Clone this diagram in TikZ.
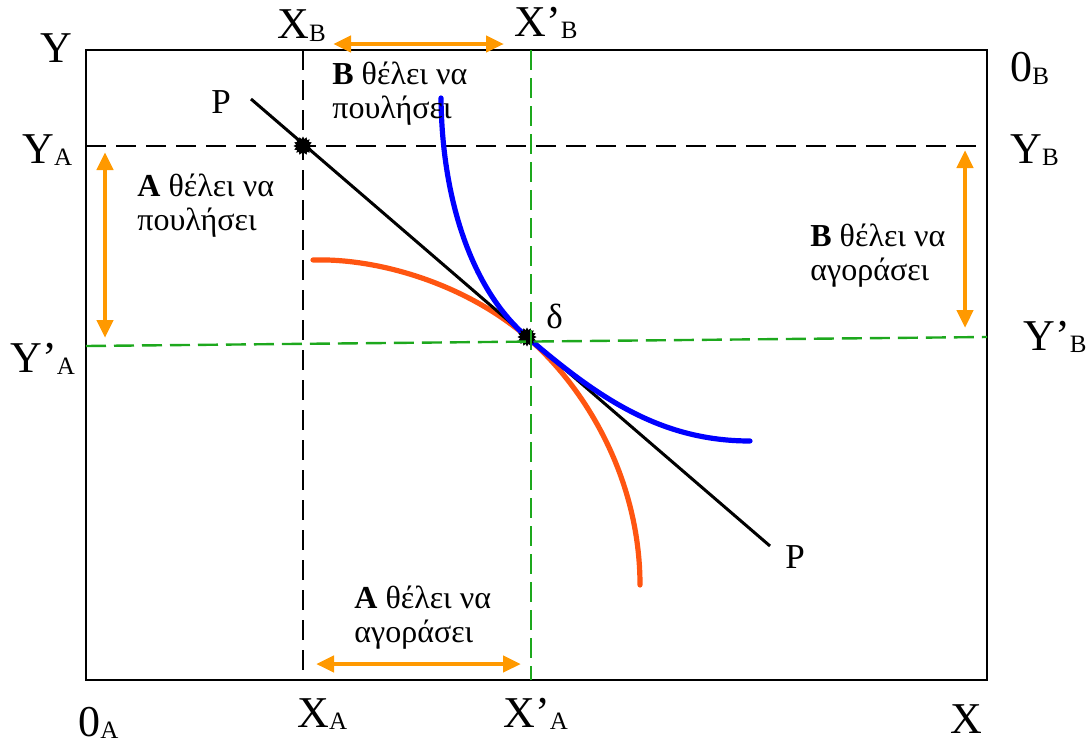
\documentclass[tikz,border=0pt]{standalone}
\usepackage{fontspec}
\setmainfont{Liberation Serif}
\usetikzlibrary{arrows.meta,shapes.geometric}
\definecolor{tradeor}{HTML}{FF9900}
\definecolor{icor}{HTML}{FF5511}
\definecolor{icbl}{HTML}{0000FF}
\definecolor{guide}{HTML}{1DA81D}
\tikzset{
  axlbl/.style={font=\fontsize{22}{24}\selectfont, inner sep=0pt, anchor=base west},
  plbl/.style={font=\fontsize{17.5}{20}\selectfont, inner sep=0pt, anchor=base west},
  txt/.style={font=\fontsize{16}{17}\selectfont, align=left, inner sep=0pt, anchor=base west},
  box/.style={draw=black, line width=1.25pt},
  bdash/.style={draw=black, line width=1.2pt, dash pattern=on 10pt off 5pt},
  gdash/.style={draw=guide, line width=1.2pt, dash pattern=on 10pt off 4pt},
  budget/.style={draw=black, line width=1.5pt},
  icA/.style={draw=icor, line width=2.6pt, line cap=round},
  icB/.style={draw=icbl, line width=2.6pt, line cap=round},
  trade/.style={{Triangle[length=9pt,width=8pt]}-{Triangle[length=9pt,width=8pt]},
                draw=tradeor, line width=2.4pt},
  eqpt/.style={star, star points=16, star point ratio=1.35, fill=black, draw=none,
               minimum size=9.5pt, inner sep=0pt},
}
\newcommand{\lsub}[1]{{\fontsize{12.5}{13}\selectfont\raisebox{-1.2pt}{#1}}}

\begin{document}
\begin{tikzpicture}[x=0.5pt,y=-0.5pt]
\useasboundingbox (0,0) rectangle (1088,744);
% Edgeworth box corners
\coordinate (oA) at (86,680);
\coordinate (oB) at (987,50);
\draw[box] (oA) rectangle (oB);
% initial endowment lines
\coordinate (xb1) at (303,50);   \coordinate (xb2) at (303,680);
\coordinate (ya1) at (86,146);   \coordinate (ya2) at (987,146);
\draw[bdash] (xb1) -- (xb2);
\draw[bdash] (ya1) -- (ya2);
% indifference curves and price line
\coordinate (delta) at (527,337);
\draw[icA] (313,260) .. controls (380,258) and (467,285) .. (delta)
                      .. controls (587,389) and (640,480) .. (640,585);
\coordinate (p1) at (251,99);
\coordinate (p2) at (770,546);
\draw[budget] (p1) -- (p2);
\draw[icB] (441,98) .. controls (442,200) and (472,290) .. (delta)
                     .. controls (597,397) and (660,441) .. (750,441);
% new allocation lines
\coordinate (xbn1) at (531,50);  \coordinate (xbn2) at (531,680);
\coordinate (yan1) at (86,346);  \coordinate (yan2) at (987,337);
\node[eqpt] (endow) at (303,146) {};
\node[eqpt] (eq) at (delta) {};
\draw[gdash] (xbn1) -- (xbn2);
\draw[gdash] (yan1) -- (yan2);
% trade arrows
\coordinate (tb1) at (333,44);   \coordinate (tb2) at (504,44);
\coordinate (ta1) at (105,152);  \coordinate (ta2) at (105,338);
\coordinate (tr1) at (965,150);  \coordinate (tr2) at (965,328);
\coordinate (tl1) at (316,664);  \coordinate (tl2) at (521,664);
\draw[trade] (tb1) -- (tb2);
\draw[trade] (ta1) -- (ta2);
\draw[trade] (tr1) -- (tr2);
\draw[trade] (tl1) -- (tl2);
% axis labels
\node[axlbl] (lY)   at (40,62)    {Y};
\node[axlbl] (lXB)  at (277,39)   {X\lsub{B}};
\node[axlbl] (lXBn) at (514,36)   {X’\lsub{B}};
\node[axlbl] (lOB)  at (1010,82)  {0\lsub{B}};
\node[axlbl] (lYA)  at (22,163)   {Y\lsub{A}};
\node[axlbl] (lYB)  at (1010,163) {Y\lsub{B}};
\node[axlbl] (lYAn) at (10,372)   {Y’\lsub{A}};
\node[axlbl] (lYBn) at (1023,350) {Y’\lsub{B}};
\node[axlbl] (lOA)  at (78,736)   {0\lsub{A}};
\node[axlbl] (lXA)  at (297,727)  {X\lsub{A}};
\node[axlbl] (lXAn) at (503,727)  {X’\lsub{A}};
\node[axlbl] (lX)   at (950,733)  {X};
\node[plbl] (lP1) at (211,113) {P};
\node[plbl] (lP2) at (785,568) {P};
\node[plbl] (ldelta) at (546,328) {δ};
% trade texts (base = second line)
\node[txt] (sellB) at (332,118) {\textbf{B} θέλει να\\πουλήσει};
\node[txt] (sellA) at (137,230) {\textbf{A} θέλει να\\πουλήσει};
\node[txt] (buyB)  at (810,280) {\textbf{B} θέλει να\\αγοράσει};
\node[txt] (buyA)  at (354,642) {\textbf{A} θέλει να\\αγοράσει};
\end{tikzpicture}
\end{document}
